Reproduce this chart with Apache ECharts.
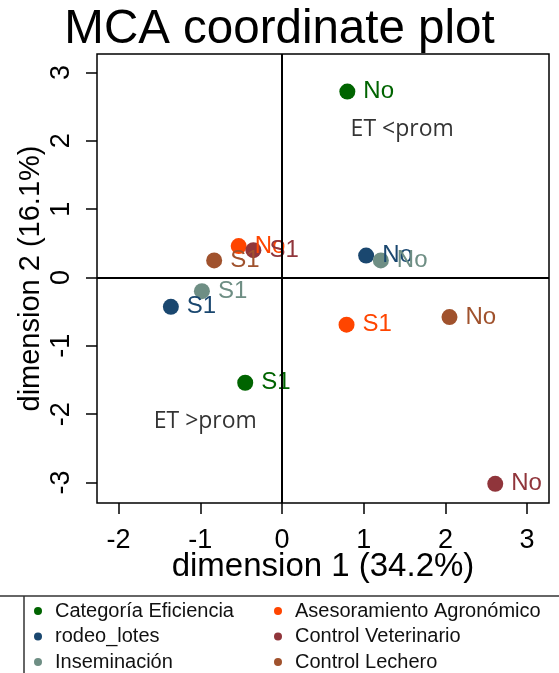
<!DOCTYPE html>
<html>
<head>
<meta charset="utf-8">
<title>MCA coordinate plot</title>
<script src="https://cdn.jsdelivr.net/npm/echarts@6/dist/echarts.min.js"></script>
<style>
  html, body { margin: 0; padding: 0; background: #fff; }
  #chart { width: 559px; height: 673px; }
</style>
</head>
<body>
<div id="chart"></div>
<script>
// grupos (variables) y niveles
const groups = ['Categoría Eficiencia', 'rodeo_lotes', 'Inseminación',
  'Asesoramiento Agronómico', 'Control Veterinario', 'Control Lechero'];
const levels = ['No', 'S1'];

// coordenadas por grupo: nivel "No" y nivel "S1"
const dim1No = [0.80, 1.03, 1.21, -0.53, 2.61, 2.05];
const dim2No = [2.72, 0.32, 0.25, 0.46, -3.02, -0.58];
const dim1S1 = [-0.45, -1.36, -0.98, 0.79, -0.35, -0.83];
const dim2S1 = [-1.54, -0.43, -0.20, -0.69, 0.40, 0.25];

// anotaciones
const notes = ['ET <prom', 'ET >prom'];
const noteX = [0.84, -1.57];
const noteY = [2.16, -2.11];

// ejes
const xTicks = [-2, -1, 0, 1, 2, 3];
const yTicks = [-3, -2, -1, 0, 1, 2, 3];
const xRange = [-2.264, 3.268];
const yRange = [-3.30, 3.27];

const colors = ['#006400', '#1a476f', '#6e8e84', '#ff4500', '#90353b', '#a0522d'];
const FONT = 'Liberation Sans, Arial, sans-serif';

const chart = echarts.init(document.getElementById('chart'));

const series = groups.map((name, i) => ({
  name: name,
  type: 'scatter',
  symbol: 'circle',
  symbolSize: 16,
  itemStyle: { color: colors[i], opacity: 1 },
  label: {
    show: true,
    position: 'right',
    distance: 8,
    color: colors[i],
    fontFamily: FONT,
    fontSize: 24,
    formatter: p => p.value[2]
  },
  emphasis: { disabled: true },
  data: [
    [dim1No[i], dim2No[i], levels[0]],
    [dim1S1[i], dim2S1[i], levels[1]]
  ]
}));

// texto de anotaciones + lineas de cero
series.push({
  name: 'notes',
  type: 'scatter',
  symbolSize: 0,
  silent: true,
  label: {
    show: true,
    position: 'right',
    distance: 0,
    color: '#000',
    fontFamily: 'Open Sans, sans-serif',
    fontSize: 23,
    formatter: p => p.value[2]
  },
  data: notes.map((t, i) => [noteX[i], noteY[i], t]),
  markLine: {
    silent: true,
    symbol: ['none', 'none'],
    label: { show: false },
    lineStyle: { color: '#000', width: 2, type: 'solid' },
    emphasis: { disabled: true },
    data: [{ xAxis: 0 }, { yAxis: 0 }]
  }
});

const legendBase = {
  orient: 'vertical',
  top: 601,
  height: 90,
  padding: 0,
  icon: 'circle',
  itemWidth: 8,
  itemHeight: 8,
  itemGap: 5.5,
  selectedMode: false,
  textStyle: {
    color: '#111',
    fontFamily: FONT,
    fontSize: 20,
    lineHeight: 20,
    padding: [0, 0, 0, 8]
  }
};

const option = {
  animation: false,
  backgroundColor: '#fff',
  title: {
    text: 'MCA coordinate plot',
    left: 'center',
    top: 1,
    textStyle: { color: '#000', fontFamily: FONT, fontSize: 47.5, fontWeight: 'normal' }
  },
  legend: [
    Object.assign({}, legendBase, { left: 34, data: groups.slice(0, 3) }),
    Object.assign({}, legendBase, { left: 274, data: groups.slice(3) })
  ],
  grid: {
    left: 97,
    right: 10,
    top: 54,
    bottom: 170,
    show: true,
    borderColor: '#000',
    borderWidth: 1.5,
    containLabel: false,
    outerBoundsMode: 'none'
  },
  xAxis: {
    type: 'value',
    min: xRange[0],
    max: xRange[1],
    name: 'dimension 1 (34.2%)',
    nameLocation: 'middle',
    nameGap: 47,
    nameMoveOverlap: false,
    nameTextStyle: { color: '#000', fontFamily: FONT, fontSize: 33 },
    axisLine: { show: false, onZero: false },
    axisTick: { show: true, length: 11, customValues: xTicks, lineStyle: { color: '#000', width: 1.5 } },
    axisLabel: { customValues: xTicks, margin: 24, color: '#000', fontFamily: FONT, fontSize: 27 },
    splitLine: { show: false }
  },
  yAxis: {
    type: 'value',
    min: yRange[0],
    max: yRange[1],
    name: 'dimension 2 (16.1%)',
    nameLocation: 'middle',
    nameRotate: 90,
    nameGap: 52,
    nameMoveOverlap: false,
    nameTextStyle: { color: '#000', fontFamily: FONT, fontSize: 29 },
    axisLine: { show: false, onZero: false },
    axisTick: { show: true, length: 11, customValues: yTicks, lineStyle: { color: '#000', width: 1.5 } },
    axisLabel: { customValues: yTicks, rotate: 90, margin: 22, color: '#000', fontFamily: FONT, fontSize: 27 },
    splitLine: { show: false }
  },
  // marco de la leyenda
  graphic: [
    { type: 'line', silent: true, shape: { x1: 0, y1: 596, x2: 559, y2: 596 }, style: { stroke: '#333', lineWidth: 1.5 } },
    { type: 'line', silent: true, shape: { x1: 24, y1: 596, x2: 24, y2: 673 }, style: { stroke: '#333', lineWidth: 1.5 } }
  ],
  series: series
};

chart.setOption(option);
</script>
</body>
</html>
